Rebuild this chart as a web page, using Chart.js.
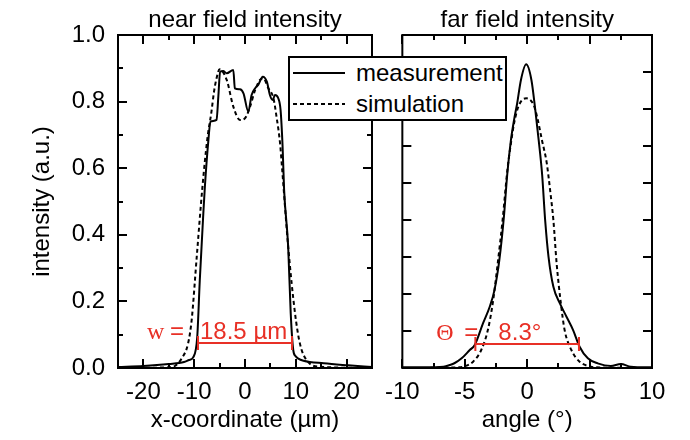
<!DOCTYPE html>
<html><head><meta charset="utf-8">
<script src="https://cdn.jsdelivr.net/npm/chart.js@4.4.0/dist/chart.umd.min.js"></script>
<style>
html,body{margin:0;padding:0;background:#fff;}
#wrap{position:relative;width:690px;height:440px;overflow:hidden;background:#fff;}
#c1{position:absolute;left:0;top:0;z-index:1;}
#c2{position:absolute;left:375px;top:0;z-index:1;}
#legend{position:absolute;left:288px;top:56px;width:219px;height:65px;border:2px solid #000;background:#fff;box-sizing:border-box;z-index:3;font:24px "Liberation Sans",Arial,sans-serif;color:#000;}
#legend .ln{position:absolute;left:3px;width:52px;height:2px;}
#legend .tx{position:absolute;left:66px;line-height:28px;height:28px;white-space:nowrap;}
</style></head>
<body><div id="wrap">
<canvas id="c1" width="385" height="440"></canvas>
<canvas id="c2" width="315" height="440"></canvas>
<div id="legend">
  <div class="ln" style="top:14px;background:#000"></div><div class="tx" style="top:1px">measurement</div>
  <div class="ln" style="top:45px;background:repeating-linear-gradient(to right,#000 0 4px,transparent 4px 7px)"></div><div class="tx" style="top:32px">simulation</div>
</div>
</div>
<script>
// ---- data ----
const nearMeasX = [-25,-20,-15,-12,-11,-10.2,-9.4,-8.9,-8.2,-7.9,-7.2,-6.8,-5.6,-5.25,-4.9,-4.3,-3.6,-2.3,-2.0,-1.0,-0.3,0.65,1.3,2.0,2.6,3.5,4.3,4.9,5.45,5.9,6.55,7.0,7.4,7.7,8.5,9.0,9.5,10.0,10.5,11.5,15.5,20.3,25];
const nearMeasY = [0.003,0.006,0.012,0.018,0.024,0.032,0.094,0.264,0.465,0.544,0.685,0.74,0.745,0.815,0.89,0.892,0.885,0.895,0.84,0.837,0.825,0.77,0.82,0.84,0.85,0.875,0.86,0.82,0.805,0.82,0.81,0.775,0.665,0.535,0.364,0.164,0.054,0.035,0.028,0.022,0.014,0.008,0.003];
const nearSimX = [-25,-15,-13.8,-12.5,-11.2,-10.5,-9.5,-8.4,-7.4,-6.6,-6.1,-5.6,-5.0,-3.6,-2.3,-1.0,0,1.0,2.0,2.95,3.6,4.6,5.6,6.2,6.9,7.3,7.6,8.5,9.85,10.8,12.1,14.7,25];
const nearSimY = [0,0.002,0.006,0.028,0.074,0.144,0.334,0.54,0.69,0.77,0.83,0.87,0.897,0.865,0.785,0.745,0.75,0.785,0.835,0.865,0.87,0.84,0.81,0.755,0.675,0.6,0.54,0.364,0.164,0.074,0.024,0.004,0];
const farMeasX = [-10,-8.3,-6.7,-6.2,-5.8,-5.25,-4.6,-4.2,-3.54,-3.0,-2.62,-2.23,-1.85,-1.6,-1.3,-1.05,-0.8,-0.5,-0.08,0.34,0.65,0.92,1.2,1.44,1.71,2.1,2.62,3.15,3.68,4.2,4.86,5.65,6.7,7.5,8.3,10];
const farMeasY = [0.002,0.002,0.004,0.009,0.015,0.029,0.054,0.069,0.134,0.184,0.234,0.324,0.46,0.58,0.685,0.745,0.795,0.865,0.912,0.865,0.775,0.685,0.58,0.444,0.334,0.244,0.194,0.154,0.114,0.064,0.029,0.014,0.006,0.012,0.004,0.002];
const farSimX = [-10,-5.5,-5.1,-4.33,-3.68,-3.15,-2.76,-2.36,-1.97,-1.57,-1.3,-1.05,-0.65,-0.08,0.52,0.79,1.18,1.57,1.85,2.1,2.36,2.7,3.0,3.54,4.2,5.1,5.5,10];
const farSimY = [0,0.002,0.004,0.019,0.054,0.114,0.194,0.314,0.444,0.6,0.675,0.735,0.79,0.81,0.79,0.755,0.685,0.615,0.53,0.444,0.314,0.194,0.114,0.054,0.019,0.004,0.002,0];
const nearTicksLabelled = [-20,-10,0,10,20];
const farTicksLabelled = [-10,-5,0,5,10];
const intensityLabels = [0.0,0.2,0.4,0.6,0.8,1.0];
const nearWidth = [-9.25, 9.25];   // w = 18.5 µm
const nearLevel = 0.075;
const farWidth = [-4.15, 4.15];    // Θ = 8.3°
const farLevel = 0.072;
const farYTicks = [0,1,2,3,4,5,6,7,8,9].map(k => k/9);

const RED = 'rgb(232,48,38)';
const SANS = '"Liberation Sans", Arial, sans-serif';
const SERIF = '"Liberation Serif", "Times New Roman", serif';
Chart.defaults.font.family = SANS;
Chart.defaults.font.size = 24;
Chart.defaults.color = '#000';

function pts(xs, ys){ return xs.map((x,i)=>({x:x,y:ys[i]})); }

function framePlugin(isMajorX, isMajorY, yLenAll){
  return {
    id:'frame',
    afterDatasetsDraw(chart){
      const {ctx, chartArea:a} = chart;
      const xs = chart.scales.x, ys = chart.scales.y;
      ctx.save();
      ctx.strokeStyle = '#000'; ctx.lineWidth = 2; ctx.lineCap='butt';
      ctx.beginPath();
      xs.ticks.forEach(t=>{
        const p = Math.round(xs.getPixelForValue(t.value));
        const L = isMajorX(t.value) ? 9 : 5;
        ctx.moveTo(p, a.bottom); ctx.lineTo(p, a.bottom - L);
        ctx.moveTo(p, a.top); ctx.lineTo(p, a.top + L);
      });
      ys.ticks.forEach(t=>{
        const p = Math.round(ys.getPixelForValue(t.value));
        const L = yLenAll ? yLenAll : (isMajorY(t.value) ? 9 : 5);
        ctx.moveTo(a.left, p); ctx.lineTo(a.left + L, p);
        ctx.moveTo(a.right, p); ctx.lineTo(a.right - L, p);
      });
      ctx.stroke();
      ctx.strokeRect(a.left, a.top, a.right - a.left, a.bottom - a.top);
      ctx.restore();
    }
  };
}

function annotPlugin(span, level, parts){
  return {
    id:'annot',
    afterDatasetsDraw(chart){
      const {ctx} = chart; const xs = chart.scales.x, ys = chart.scales.y;
      const x1 = xs.getPixelForValue(span[0]), x2 = xs.getPixelForValue(span[1]);
      const py = ys.getPixelForValue(level);
      ctx.save();
      ctx.strokeStyle = RED; ctx.lineWidth = 2;
      ctx.beginPath();
      ctx.moveTo(x1, py); ctx.lineTo(x2, py);
      ctx.moveTo(x1, py-7); ctx.lineTo(x1, py+7);
      ctx.moveTo(x2, py-7); ctx.lineTo(x2, py+7);
      ctx.stroke();
      ctx.fillStyle = RED; ctx.textBaseline = 'alphabetic'; ctx.textAlign = 'left';
      parts.forEach(p=>{ ctx.font = p.font; ctx.fillText(p.text, x1 + p.dx, py - 4); });
      ctx.restore();
    }
  };
}

function ds(data, dashed){
  return {data:data, borderColor:'#000', borderWidth:2, borderDash: dashed ? [4,3] : [],
          pointRadius:0, fill:false, cubicInterpolationMode:'monotone'};
}

const near = new Chart(document.getElementById('c1'), {
  type:'line',
  data:{datasets:[ds(pts(nearMeasX, nearMeasY), false), ds(pts(nearSimX, nearSimY), true)]},
  options:{
    responsive:false, animation:false, events:[],
    layout:{padding:{left:0,right:13,top:0,bottom:0}},
    plugins:{legend:{display:false}, tooltip:{enabled:false},
      title:{display:true, text:'near field intensity', fullSize:false, color:'#000',
             font:{size:24, weight:'normal'}, padding:{top:5.6,bottom:0.6}}},
    scales:{
      x:{type:'linear', min:-25, max:25,
         grid:{display:false, drawTicks:false}, border:{display:false},
         ticks:{stepSize:5, autoSkip:false, maxRotation:0, padding:10, color:'#000',
                callback:v => nearTicksLabelled.includes(v) ? String(v) : ''},
         title:{display:true, text:'x-coordinate (µm)', color:'#000', font:{size:24}, padding:{top:0,bottom:5}},
         afterFit:s=>{ s.height = 72; }},
      y:{type:'linear', min:0, max:1,
         grid:{display:false, drawTicks:false}, border:{display:false},
         ticks:{stepSize:0.1, autoSkip:false, padding:13, color:'#000',
                callback:v => intensityLabels.some(l=>Math.abs(l-v)<1e-6) ? v.toFixed(1) : ''},
         title:{display:true, text:'intensity (a.u.)', color:'#000', font:{size:24}, padding:{top:28,bottom:0}},
         afterFit:s=>{ s.width = 118; }}
    }
  },
  plugins:[
    framePlugin(v=>Math.abs(v%10)<1e-6, v=>Math.abs(Math.round(v*10)%2)===0, 0),
    annotPlugin(nearWidth, nearLevel, [
      {text:'w', font:'24px '+SERIF, dx:-51},
      {text:'=', font:'24px '+SANS, dx:-28},
      {text:'18.5 µm', font:'24px '+SANS, dx:2}
    ])
  ]
});

const far = new Chart(document.getElementById('c2'), {
  type:'line',
  data:{datasets:[ds(pts(farMeasX, farMeasY), false), ds(pts(farSimX, farSimY), true)]},
  options:{
    responsive:false, animation:false, events:[],
    layout:{padding:{left:0,right:38,top:0,bottom:0}},
    plugins:{legend:{display:false}, tooltip:{enabled:false},
      title:{display:true, text:'far field intensity', fullSize:false, color:'#000',
             font:{size:24, weight:'normal'}, padding:{top:5.6,bottom:0.6}}},
    scales:{
      x:{type:'linear', min:-10, max:10,
         grid:{display:false, drawTicks:false}, border:{display:false},
         ticks:{stepSize:2.5, autoSkip:false, maxRotation:0, padding:10, color:'#000',
                callback:v => farTicksLabelled.includes(v) ? String(v) : ''},
         title:{display:true, text:'angle (°)', color:'#000', font:{size:24}, padding:{top:0,bottom:5}},
         afterFit:s=>{ s.height = 72; }},
      y:{type:'linear', min:0, max:1,
         grid:{display:false, drawTicks:false}, border:{display:false},
         ticks:{display:false},
         afterBuildTicks:s=>{ s.ticks = farYTicks.map(v=>({value:v})); },
         afterFit:s=>{ s.width = 23; }}
    }
  },
  plugins:[
    framePlugin(v=>Math.abs(v%5)<1e-6, v=>true, 9),
    annotPlugin(farWidth, farLevel, [
      {text:'Θ', font:'24px '+SERIF, dx:-39},
      {text:'=', font:'24px '+SANS, dx:-11},
      {text:'8.3°', font:'24px '+SANS, dx:23}
    ])
  ]
});
</script>
</body></html>
